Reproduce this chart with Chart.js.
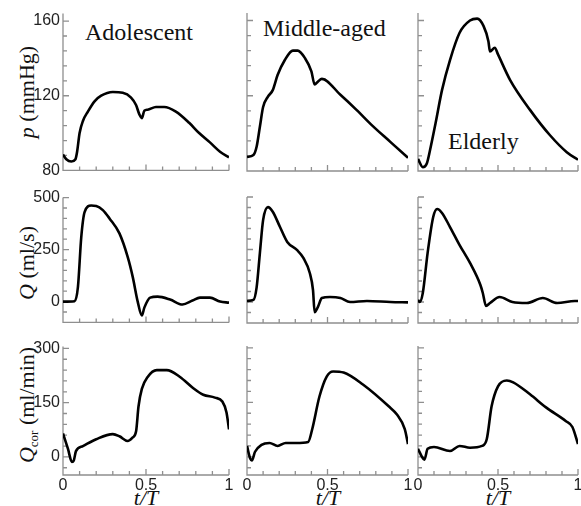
<!DOCTYPE html>
<html lang="en">
<head>
<meta charset="UTF-8">
<title>Pressure and flow waveforms by age</title>
<script src="https://cdn.jsdelivr.net/npm/chart.js"></script>
<style>
    body {
        margin: 0;
        width: 581px;
        height: 506px;
        overflow: hidden;
        position: relative;
        background: #fff;
        font-family: 'Liberation Serif', 'Times New Roman', serif;
        color: #111;
    }
    canvas { position: absolute; }
    .lbl { position: absolute; white-space: nowrap; line-height: 1; }
    .case { font-size: 24px; }
    .ytitle { font-size: 22px; transform: translate(-50%, -50%) rotate(-90deg); }
    .xtitle { font-size: 22px; font-style: italic; transform: translateX(-50%); }
    sub { font-size: 13px; vertical-align: -4px; line-height: 0; }
</style>
</head>
<body>
    <div class="lbl case" style="left:85px; top:20px;">Adolescent</div>
    <div class="lbl case" style="left:263px; top:16px;">Middle-aged</div>
    <div class="lbl case" style="left:448px; top:129px;">Elderly</div>

    <div class="lbl ytitle" style="left:27px; top:92px;"><i>p</i> (mmHg)</div>
    <div class="lbl ytitle" style="left:27px; top:263px;"><i>Q</i> (ml/s)</div>
    <div class="lbl ytitle" style="left:27px; top:405px;"><i>Q</i><sub>cor</sub> (ml/min)</div>

    <div class="lbl xtitle" style="left:146px; top:487px;">t/T</div>
    <div class="lbl xtitle" style="left:328px; top:487px;">t/T</div>
    <div class="lbl xtitle" style="left:498px; top:487px;">t/T</div>

<script>
// pressure p (mmHg)
const tPAdol = [0, 0.02, 0.05, 0.075, 0.085, 0.1, 0.12, 0.15, 0.19, 0.23, 0.30, 0.36, 0.41, 0.44, 0.46, 0.475, 0.49, 0.51, 0.56, 0.61, 0.68, 0.76, 0.82, 0.885, 0.946, 1.0];
const pAdol  = [88.5, 86, 84.8, 86, 90, 100, 106.5, 111.5, 117, 120, 122, 121.6, 119, 115, 110, 108, 112, 112.5, 114, 114, 111.5, 105.5, 100, 95, 90, 87];
const tPMid  = [0, 0.04, 0.06, 0.08, 0.1, 0.13, 0.16, 0.19, 0.235, 0.285, 0.315, 0.36, 0.40, 0.42, 0.44, 0.465, 0.58, 0.68, 0.78, 0.89, 1.0];
const pMid   = [87.5, 88.5, 93, 103.5, 114, 119.5, 123, 131, 139, 144, 144, 140, 133, 126, 127.5, 129, 120.5, 112.5, 104, 95.5, 87];
const tPEld  = [0, 0.03, 0.055, 0.075, 0.11, 0.15, 0.2, 0.26, 0.325, 0.37, 0.41, 0.44, 0.45, 0.48, 0.5, 0.575, 0.70, 0.825, 0.93, 1.0];
const pEld   = [86.4, 82, 84, 91, 105.5, 123, 139, 153.5, 160, 161, 157, 149, 143.5, 145.5, 142, 128.5, 112.5, 99, 90, 86];

// aortic flow Q (ml/s)
const tQAdol = [0, 0.07, 0.09, 0.11, 0.13, 0.17, 0.2, 0.24, 0.28, 0.34, 0.39, 0.42, 0.45, 0.475, 0.49, 0.525, 0.57, 0.645, 0.72, 0.78, 0.825, 0.885, 0.946, 1.0];
const qAdol  = [0, 2, 71, 310, 430, 462, 460, 440, 400, 328, 214, 119, 0, -67, -29, 19, 24, 10, -14, 5, 19, 19, 0, -5];
const tQMid  = [0, 0.04, 0.06, 0.08, 0.10, 0.13, 0.16, 0.205, 0.25, 0.31, 0.35, 0.39, 0.41, 0.42, 0.44, 0.465, 0.515, 0.58, 0.64, 0.745, 0.89, 1.0];
const qMid   = [5, 10, 71, 233, 390, 452, 430, 357, 286, 248, 210, 138, 57, -48, -24, 19, 24, 19, 0, 5, 0, -2];
const tQEld  = [0, 0.01, 0.03, 0.06, 0.095, 0.12, 0.15, 0.2, 0.26, 0.325, 0.39, 0.405, 0.425, 0.45, 0.51, 0.59, 0.68, 0.78, 0.87, 0.98, 1.0];
const qEld   = [10, 0, 43, 233, 405, 443, 424, 357, 271, 186, 81, 43, -19, -5, 24, 0, -5, 19, -5, 5, 5];

// coronary flow Qcor (ml/min)
const tCAdol = [0, 0.03, 0.054, 0.065, 0.078, 0.12, 0.2, 0.3, 0.34, 0.39, 0.42, 0.44, 0.455, 0.475, 0.51, 0.565, 0.625, 0.705, 0.785, 0.845, 0.915, 0.96, 0.985, 1.0];
const cAdol  = [65, 22, -14, -10, 16, 30, 49, 63, 57, 44, 54, 70, 140, 188, 221, 240, 240, 221, 190, 172, 164, 153, 123, 76];
const tCMid  = [0, 0.02, 0.03, 0.05, 0.09, 0.14, 0.19, 0.24, 0.305, 0.38, 0.405, 0.45, 0.495, 0.535, 0.6, 0.72, 0.88, 0.93, 0.98, 1.0];
const cMid   = [30, -5, -10, 14, 33, 38, 30, 38, 38, 41, 76, 166, 221, 235, 232, 199, 139, 117, 76, 35];
const tCEld  = [0, 0.025, 0.04, 0.06, 0.1, 0.2, 0.26, 0.325, 0.4, 0.43, 0.46, 0.5, 0.555, 0.595, 0.7, 0.8, 0.925, 0.965, 1.0];
const cEld   = [22, 0, -8, 22, 27, 16, 30, 25, 30, 49, 139, 194, 210, 205, 172, 136, 98, 82, 35];

// layout of the 3x3 grid (pixel rect of each plot area)
const cols = [{ L: 63, R: 229 }, { L: 247, R: 408 }, { L: 418, R: 578 }];
const rows = [
    { T: 13, B: 171, min: 80, max: 164, step: 8, major: 40 },
    { T: 197, B: 323, min: -100, max: 500, step: 50, major: 250 },
    { T: 346, B: 475, min: -50, max: 305, step: 30, major: 150 }
];

const panels = [
    { row: 0, col: 0, t: tPAdol, v: pAdol }, { row: 0, col: 1, t: tPMid, v: pMid }, { row: 0, col: 2, t: tPEld, v: pEld },
    { row: 1, col: 0, t: tQAdol, v: qAdol }, { row: 1, col: 1, t: tQMid, v: qMid }, { row: 1, col: 2, t: tQEld, v: qEld },
    { row: 2, col: 0, t: tCAdol, v: cAdol }, { row: 2, col: 1, t: tCMid, v: cMid }, { row: 2, col: 2, t: tCEld, v: cEld }
];

function isMajor(v, major) {
    const r = v / major;
    return Math.abs(r - Math.round(r)) < 1e-6;
}

function majorTicks(min, max, major) {
    const out = [];
    for (let v = Math.ceil(min / major - 1e-9) * major; v <= max + 1e-9; v += major) {
        out.push({ value: +v.toFixed(6) });
    }
    return out;
}

// axis lines with inward tick marks
const axisPlugin = {
    id: 'axes',
    beforeDatasetsDraw(chart, args, o) {
        const { ctx, chartArea: a, scales: { x, y } } = chart;
        ctx.save();
        ctx.strokeStyle = '#8f8f8f';
        ctx.lineWidth = 1.3;
        ctx.beginPath();
        ctx.moveTo(a.left, a.top);
        ctx.lineTo(a.left, a.bottom);
        ctx.lineTo(a.right, a.bottom);
        for (let k = 0; ; k++) {
            const v = x.min + k * o.xStep;
            if (v > x.max + 1e-9) break;
            const px = x.getPixelForValue(v);
            ctx.moveTo(px, a.bottom);
            ctx.lineTo(px, a.bottom - (isMajor(v, o.xMajor) ? 6 : 4));
        }
        for (let v = Math.ceil(y.min / o.yStep) * o.yStep; v <= y.max + 1e-9; v += o.yStep) {
            const py = y.getPixelForValue(v);
            ctx.moveTo(a.left, py);
            ctx.lineTo(a.left + (isMajor(v, o.yMajor) ? 6 : 4), py);
        }
        ctx.stroke();
        ctx.restore();
    }
};

const tickFont = { family: "'Liberation Sans', Arial, sans-serif", size: 16 };

function makePanel(p) {
    const c = cols[p.col], r = rows[p.row];
    const padL = p.col === 0 ? 63 : 12;
    const padT = 12, padR = 8;
    const padB = p.row === 2 ? 31 : (p.col === 0 ? 12 : 6);

    const canvas = document.createElement('canvas');
    canvas.width = c.R - c.L + padL + padR;
    canvas.height = r.B - r.T + padT + padB;
    canvas.style.left = (c.L - padL) + 'px';
    canvas.style.top = (r.T - padT) + 'px';
    document.body.appendChild(canvas);

    new Chart(canvas, {
        type: 'line',
        data: {
            datasets: [{
                data: p.t.map((t, i) => ({ x: t, y: p.v[i] })),
                borderColor: '#000',
                borderWidth: 2.6,
                pointRadius: 0,
                cubicInterpolationMode: 'monotone',
                fill: false
            }]
        },
        options: {
            responsive: false,
            animation: false,
            events: [],
            layout: { padding: { top: padT, right: padR, left: 0, bottom: 0 } },
            plugins: {
                legend: { display: false },
                tooltip: { enabled: false },
                axes: { xStep: 0.1, xMajor: 0.5, yStep: r.step, yMajor: r.major }
            },
            scales: {
                x: {
                    type: 'linear', min: 0, max: 1,
                    grid: { display: false, drawTicks: false },
                    border: { display: false },
                    ticks: {
                        display: p.row === 2, autoSkip: false, maxRotation: 0,
                        padding: 1, color: '#222', font: tickFont,
                        callback: v => String(v)
                    },
                    afterBuildTicks: s => { s.ticks = majorTicks(0, 1, 0.5); },
                    afterFit: s => { s.height = padB; }
                },
                y: {
                    type: 'linear', min: r.min, max: r.max,
                    grid: { display: false, drawTicks: false },
                    border: { display: false },
                    ticks: {
                        display: p.col === 0, autoSkip: false,
                        padding: 3, color: '#222', font: tickFont,
                        callback: v => String(v)
                    },
                    afterBuildTicks: s => { s.ticks = majorTicks(r.min, r.max, r.major); },
                    afterFit: s => { s.width = padL; }
                }
            }
        },
        plugins: [axisPlugin]
    });
}

panels.forEach(makePanel);
</script>
</body>
</html>
